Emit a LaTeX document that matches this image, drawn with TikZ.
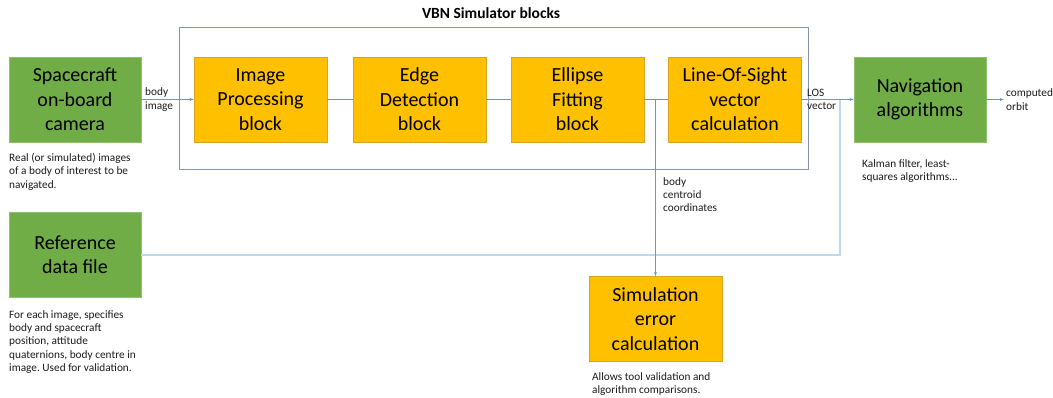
\documentclass[tikz,border=0pt]{standalone}
\usepackage{fontspec}
\setmainfont{Carlito}
\usetikzlibrary{arrows, positioning}
\frenchspacing

\definecolor{boxgreen}{HTML}{70AD47}
\definecolor{edgegreen}{HTML}{8CC06A}
\definecolor{boxorange}{HTML}{FFC000}
\definecolor{edgeorange}{HTML}{D9A520}
\definecolor{linkblue}{HTML}{5B9BD5}
\definecolor{paleblue}{HTML}{BDD7EE}
\definecolor{framegray}{HTML}{8497B0}
\definecolor{notegray}{HTML}{1A1A1A}

\begin{document}
\begin{tikzpicture}[x=1pt, y=-1pt,
    % Styles for each node type
    source/.style={rectangle, draw=edgegreen, fill=boxgreen, align=center, minimum width=132pt, minimum height=85pt, inner sep=0pt, font=\fontsize{20}{24.4}\selectfont},
    block/.style={rectangle, draw=edgeorange, fill=boxorange, align=center, minimum width=133pt, minimum height=85pt, inner sep=0pt, font=\fontsize{20}{24.4}\selectfont},
    frame/.style={rectangle, draw=framegray, minimum width=629pt, minimum height=142pt, inner sep=0pt},
    title/.style={font=\fontsize{15.5}{18}\selectfont\bfseries},
    note/.style={anchor=north west, align=left, inner sep=0pt, text=notegray, font=\fontsize{11.3}{13.4}\selectfont},
    tag/.style={anchor=west, align=left, inner sep=0pt, text=notegray, font=\fontsize{11.3}{13.4}\selectfont},
    link/.style={linkblue, thin},
    arrow/.style={linkblue, thin, ->, >=latex},
    refline/.style={paleblue, line width=1.6pt}
]
\useasboundingbox (0,0) rectangle (1053,398);

% VBN Simulator frame
\node[frame] (vbn) at (493.5,98) {};
\node[title] (vbntitle) at (491,13) {VBN Simulator blocks};

% Inputs on the left
\node[source] (cam) at (75,99.5) {Spacecraft\\on-board\\camera};
\node[source] (ref) at (75,255) {Reference\\data file};

% Simulator blocks
\node[block] (ip)  at (260.5,99.5) {Image\\Processing\\block};
\node[block] (ed)  at (419.5,99.5) {Edge\\Detection\\block};
\node[block] (ef)  at (577.5,99.5) {Ellipse\\Fitting\\block};
\node[block] (los) at (735,99.5)   {Line-Of-Sight\\vector\\calculation};

% Outputs
\node[source] (nav) at (920,99.5)  {Navigation\\algorithms};
\node[block]  (sim) at (655.5,319) {Simulation\\error\\calculation};

% Connector labels
\node[tag] (bodyimg) at (145,99.5)  {body\\image};
\node[tag] (losvec)  at (807,99.5)  {LOS\\vector};
\node[tag] (orbit)   at (1006,99.5) {computed\\orbit};
\node[note] (centroid) at (663,177) {body\\centroid\\coordinates};

% Notes under the boxes
\node[note] (camnote) at (9,153) {Real (or simulated) images\\of a body of interest to be\\navigated.};
\node[note] (refnote) at (9,310) {For each image, specifies\\body and spacecraft\\position, attitude\\quaternions, body centre in\\image. Used for validation.};
\node[note] (navnote) at (862,159) {Kalman filter, least-\\squares algorithms...};
\node[note] (simnote) at (592,372) {Allows tool validation and\\algorithm comparisons.};

% Connectors
\coordinate (merge) at (840,99.5);
\draw[refline] (ref) -| (merge);
\draw[arrow] (cam) -- (ip);
\draw[link] (ip) -- (ed);
\draw[link] (ed) -- (ef);
\draw[link] (ef) -- (los);
\draw[arrow] (ef.east -| sim) -- (sim);
\draw[arrow] (los) -- (nav);
\draw[arrow] (nav) -- ([xshift=-2pt]orbit.west);

\end{tikzpicture}
\end{document}
